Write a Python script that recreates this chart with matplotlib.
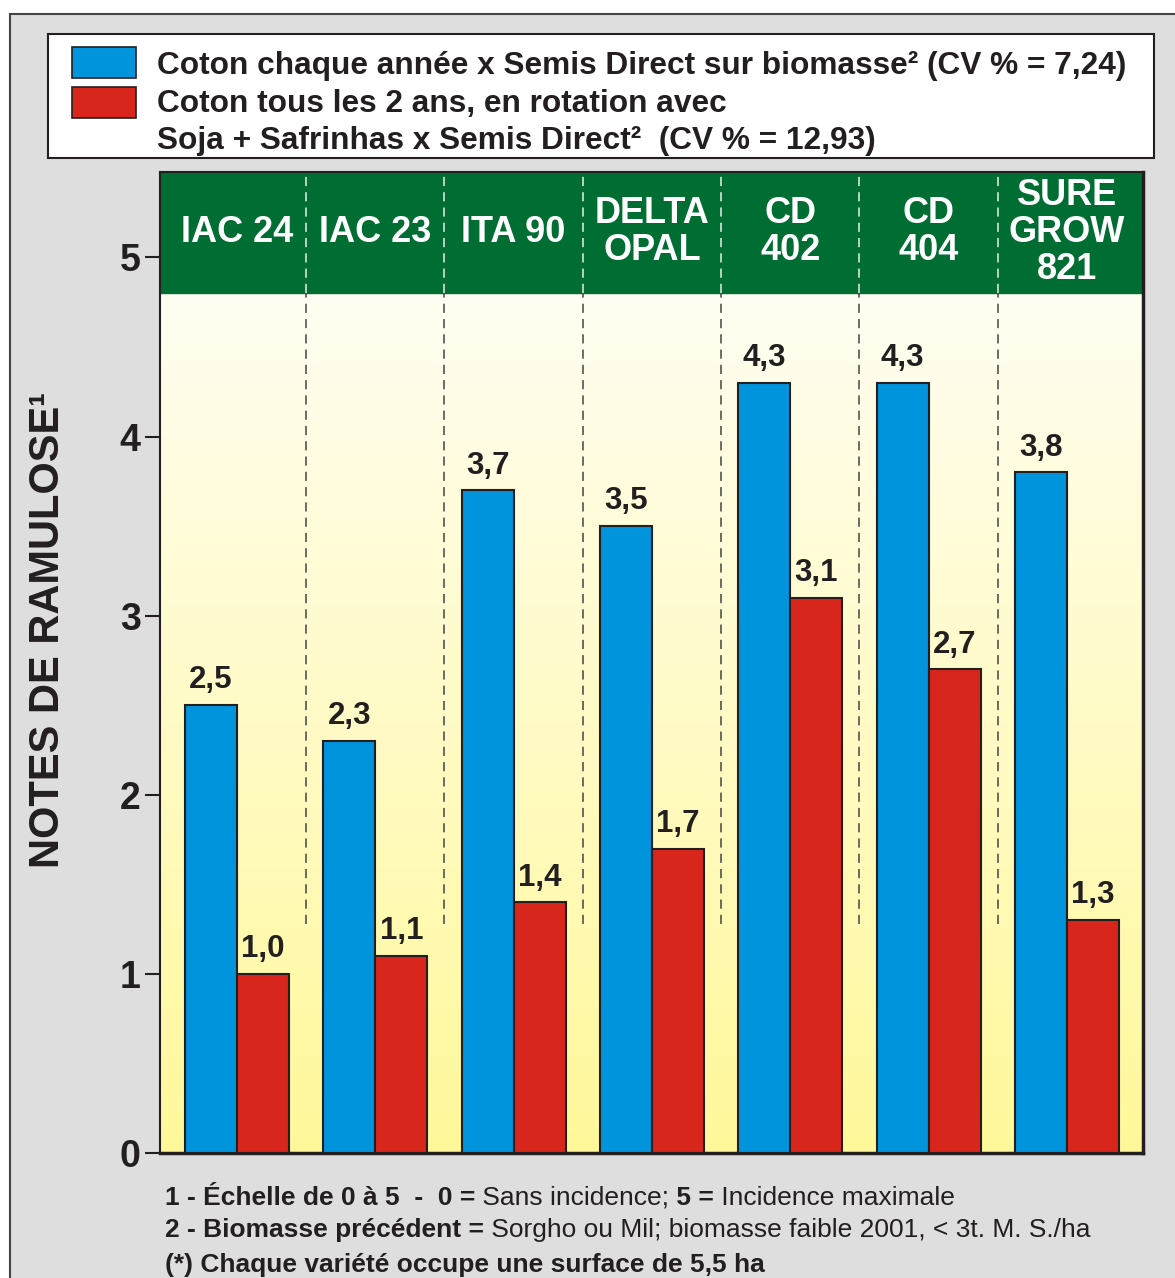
import numpy as np
import matplotlib
matplotlib.use("Agg")
import matplotlib.pyplot as plt
from matplotlib.patches import Rectangle
from matplotlib.colors import LinearSegmentedColormap

# données
varietes = ["IAC 24", "IAC 23", "ITA 90", "DELTA\nOPAL", "CD\n402", "CD\n404", "SURE\nGROW\n821"]
coton_annuel = [2.5, 2.3, 3.7, 3.5, 4.3, 4.3, 3.8]
coton_rotation = [1.0, 1.1, 1.4, 1.7, 3.1, 2.7, 1.3]
yticks = [0, 1, 2, 3, 4, 5]

legende = [
    "Coton chaque année x Semis Direct sur biomasse² (CV % = 7,24)",
    "Coton tous les 2 ans, en rotation avec",
    "Soja + Safrinhas x Semis Direct²  (CV % = 12,93)",
]
notes = [
    [("1 - Échelle de 0 à 5  -  0 =", "bold"), (" Sans incidence;", "normal"),
     (" 5 =", "bold"), (" Incidence maximale", "normal")],
    [("2 - Biomasse précédent =", "bold"),
     (" Sorgho ou Mil; biomasse faible 2001, < 3t. M. S./ha", "normal")],
    [("(*) Chaque variété occupe une surface de 5,5 ha", "bold")],
]

BLEU = "#0094dc"
ROUGE = "#d9261c"
VERT = "#006e33"
GRIS = "#dedede"
ENCRE = "#231f20"

plt.rcParams["font.family"] = ["Liberation Sans", "DejaVu Sans"]

W, H = 1175, 1278
fig = plt.figure(figsize=(W / 100, H / 100), dpi=100)
fig.patch.set_facecolor("white")


def fx(x):
    return x / W


def fy(y):
    return 1 - y / H


# cadre gris extérieur
fig.patches.append(Rectangle((fx(10), fy(1300)), fx(1200), (1300 - 14) / H,
                             transform=fig.transFigure, facecolor=GRIS,
                             edgecolor="#444444", lw=1.5, zorder=0))
# boîte de légende
fig.patches.append(Rectangle((fx(48), fy(158)), fx(1106), 124 / H,
                             transform=fig.transFigure, facecolor="white",
                             edgecolor=ENCRE, lw=1.5, zorder=1))
for (y0, c) in [(47, BLEU), (87, ROUGE)]:
    fig.patches.append(Rectangle((fx(72), fy(y0 + 31)), fx(64), 31 / H,
                                 transform=fig.transFigure, facecolor=c,
                                 edgecolor=ENCRE, lw=1.2, zorder=2))
for txt, yb in zip(legende, [74, 112, 149]):
    fig.text(fx(157), fy(yb), txt, fontsize=22.8, fontweight="bold",
             color=ENCRE, va="baseline", ha="left", zorder=3)

# axes
y_haut = 5.477
y_bandeau = 4.803
ax = fig.add_axes([fx(160), fy(1153), fx(983), (1153 - 172) / H])
ax.set_zorder(5)
x = np.arange(len(varietes))
ax.set_xlim(-0.557, 6.551)
ax.set_ylim(0, y_haut)

degrade = LinearSegmentedColormap.from_list("jaune", ["#fff89a", "#fffef2"])
ax.imshow(np.linspace(0, 1, 256).reshape(-1, 1), cmap=degrade, aspect="auto",
          origin="lower", extent=(-0.557, 6.551, 0, y_bandeau), zorder=0)
ax.axhspan(y_bandeau, y_haut, color=VERT, zorder=1)

sep = x[:-1] + 0.5
ax.vlines(sep, 1.28, y_bandeau, colors="#444444", lw=1.1,
          linestyles=(0, (6, 4)), zorder=1)
ax.vlines(sep, y_bandeau, y_haut, colors="#e8f0e8", lw=1.1,
          linestyles=(0, (6, 4)), zorder=2)

lb = 0.376
b1 = ax.bar(x - lb / 2, coton_annuel, lb, color=BLEU, edgecolor=ENCRE, lw=1.5, zorder=3)
b2 = ax.bar(x + lb / 2, coton_rotation, lb, color=ROUGE, edgecolor=ENCRE, lw=1.5, zorder=3)
for barres in (b1, b2):
    for r in barres:
        v = r.get_height()
        ax.annotate(f"{v:.1f}".replace(".", ","), (r.get_x() + r.get_width() / 2, v),
                    xytext=(0, 7), textcoords="offset points", ha="center",
                    va="bottom", fontsize=22.5, fontweight="bold", color=ENCRE, zorder=4)

for xi, nom in zip(x, varietes):
    ax.text(xi, (y_bandeau + y_haut) / 2, nom, ha="center", va="center",
            fontsize=26, fontweight="bold", color="white", linespacing=1.08, zorder=4)

ax.set_xticks([])
ax.set_yticks(yticks)
ax.set_yticklabels([str(t) for t in yticks], fontsize=27, fontweight="bold", color=ENCRE)
ax.tick_params(axis="y", length=11, width=1.5, pad=3, color=ENCRE)
for s in ax.spines.values():
    s.set_color(ENCRE)
    s.set_linewidth(1.5)
ax.spines["right"].set_linewidth(2.5)
ax.spines["bottom"].set_linewidth(2.5)

fig.text(fx(48), fy(630), "NOTES DE RAMULOSE¹", rotation=90, ha="center", va="center",
         fontsize=30, fontweight="bold", color=ENCRE)

# notes de bas de page
fig.canvas.draw()
rend = fig.canvas.get_renderer()
for ligne, yb in zip(notes, [1205, 1237, 1272]):
    xc = fx(165)
    for s, w in ligne:
        t = fig.text(xc, fy(yb), s, fontsize=19, fontweight=w, color=ENCRE,
                     va="baseline", ha="left")
        xc += t.get_window_extent(renderer=rend).width / fig.bbox.width

fig.savefig("out.png", dpi=100, facecolor=fig.get_facecolor())
